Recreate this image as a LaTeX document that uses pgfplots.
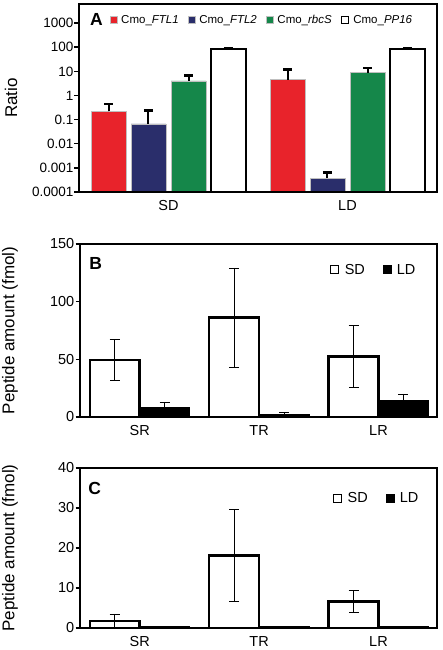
\documentclass[border=0pt]{standalone}
\usepackage{fontspec}
\setmainfont{Liberation Sans}
\usepackage{pgfplots}
\pgfplotsset{compat=1.18}
\definecolor{cred}{HTML}{E8232B}
\definecolor{cnavy}{HTML}{2A2E6B}
\definecolor{cgreen}{HTML}{15874A}
\pgfplotsset{
  common/.style={
    scale only axis,
    anchor=south west,
    /pgf/number format/assume math mode=true,
    ytick pos=left, tick align=outside, major tick length=4.5pt,
    xtick style={draw=none},
    ytick style={line width=1.5pt, black},
    axis on top,
    yticklabel style={inner sep=1pt, text=black},
    xticklabel style={font=\fontsize{14.5}{15}\selectfont, text=black},
    ylabel style={font=\fontsize{17}{17}\selectfont, anchor=center},
    ybar,
  },
}
\begin{document}
\begin{tikzpicture}[x=1pt,y=1pt]
\useasboundingbox (0,0) rectangle (442,650);

% ---------------- Panel A ----------------
\begin{axis}[common,
  at={(79pt,458pt)},
  width=358pt, height=188pt,
  ymode=log, log origin=infty,
  ymin=1e-4, ymax=6200,
  xmin=-0.5, xmax=1.5,
  xtick={0,1}, xticklabels={SD,LD},
  ytick={1e-4,1e-3,1e-2,1e-1,1,10,100,1000},
  yticklabels={0.0001,0.001,0.01,0.1,1,10,100,1000},
  yminorticks=false,
  axis line style={line width=2.5pt},
  yticklabel style={font=\fontsize{13.5}{14}\selectfont},
  ylabel={Ratio},
  ylabel style={at={(axis description cs:-0.19,0.5)}},
  bar width=0.195,
  error bars/y dir=plus, error bars/y explicit,
  error bars/error bar style={line width=2pt, black},
  error bars/error mark options={rotate=90, mark size=4.5pt, line width=2.5pt, black},
  legend columns=4,
  legend style={draw=none, fill=none, inner sep=0pt,
    at={(axis description cs:0.085,0.915)}, anchor=west,
    font=\fontsize{11.5}{12}\selectfont,
    /tikz/every even column/.append style={column sep=7pt}},
  legend image code/.code={\draw[#1, line width=0.6pt] (0pt,-3.5pt) rectangle (7pt,3.5pt); \path (9pt,0pt);},
]
\addplot[fill=cred, draw=gray!50, line width=0.6pt, bar shift=0pt]
  coordinates {(-0.335,0.22) +- (0,0.23) (0.665,4.5) +- (0,7.2)};
\addlegendentry{Cmo\_\textit{FTL1}}
\addplot[fill=cnavy, draw=gray!50, line width=0.6pt, bar shift=0pt]
  coordinates {(-0.112,0.066) +- (0,0.17) (0.888,0.00038) +- (0,0.00025)};
\addlegendentry{Cmo\_\textit{FTL2}}
\addplot[fill=cgreen, draw=gray!50, line width=0.6pt, bar shift=0pt]
  coordinates {(0.112,4.0) +- (0,2.8) (1.112,8.9) +- (0,5)};
\addlegendentry{Cmo\_\textit{rbcS}}
\addplot[fill=white, draw=black, line width=2.5pt, bar shift=0pt]
  coordinates {(0.335,85) +- (0,8) (1.335,85) +- (0,8)};
\addlegendentry{Cmo\_\textit{PP16}}
\node[font=\bfseries\fontsize{17.5}{18}\selectfont] at (axis description cs:0.049,0.918) {A};
\end{axis}

% ---------------- Panel B ----------------
\begin{axis}[common,
  at={(80pt,233pt)},
  width=357pt, height=173pt,
  ymin=0, ymax=150, ytick={0,50,100,150},
  xmin=-0.5, xmax=2.49,
  xtick={0,1,2}, xticklabels={SR,TR,LR},
  axis line style={line width=2.3pt},
  yticklabel style={font=\fontsize{14.5}{15}\selectfont},
  ylabel={Peptide amount (fmol)},
  ylabel style={at={(axis description cs:-0.196,0.5)}},
  bar width=0.418,
  error bars/y dir=both, error bars/y explicit,
  error bars/error bar style={line width=0.8pt, black},
  error bars/error mark options={rotate=90, mark size=5pt, line width=0.8pt, black},
  legend columns=2,
  legend style={draw=none, fill=none, inner sep=0pt,
    at={(axis description cs:0.70,0.85)}, anchor=west,
    font=\fontsize{14.5}{15}\selectfont,
    /tikz/every even column/.append style={column sep=16pt}},
  legend image code/.code={\draw[#1, line width=0.9pt] (0pt,-4pt) rectangle (8pt,4pt); \path (11pt,0pt);},
]
\addplot[fill=white, draw=black, line width=2.5pt, bar shift=0pt]
  coordinates {(-0.209,49.6) +- (0,18) (0.791,86.2) +- (0,43) (1.791,52.5) +- (0,27)};
\addlegendentry{SD}
\addplot[fill=black, draw=black, line width=1pt, bar shift=0pt]
  coordinates {(0.209,8.3) +- (0,4.7) (1.209,2.5) +- (0,1.5) (2.209,14) +- (0,6)};
\addlegendentry{LD}
\node[font=\bfseries\fontsize{17.5}{18}\selectfont] at (axis description cs:0.044,0.89) {B};
\end{axis}

% ---------------- Panel C ----------------
\begin{axis}[common,
  at={(80pt,22pt)},
  width=357pt, height=160pt,
  ymin=0, ymax=40, ytick={0,10,20,30,40},
  xmin=-0.5, xmax=2.49,
  xtick={0,1,2}, xticklabels={SR,TR,LR},
  axis line style={line width=2.3pt},
  yticklabel style={font=\fontsize{14.5}{15}\selectfont},
  ylabel={Peptide amount (fmol)},
  ylabel style={at={(axis description cs:-0.196,0.5)}},
  bar width=0.418,
  error bars/y dir=both, error bars/y explicit,
  error bars/error bar style={line width=0.8pt, black},
  error bars/error mark options={rotate=90, mark size=5pt, line width=0.8pt, black},
  legend columns=2,
  legend style={draw=none, fill=none, inner sep=0pt,
    at={(axis description cs:0.708,0.81)}, anchor=west,
    font=\fontsize{14.5}{15}\selectfont,
    /tikz/every even column/.append style={column sep=16pt}},
  legend image code/.code={\draw[#1, line width=0.9pt] (0pt,-4pt) rectangle (8pt,4pt); \path (11pt,0pt);},
]
\addplot[fill=white, draw=black, line width=2.5pt, bar shift=0pt]
  coordinates {(-0.209,1.8) +- (0,1.7) (0.791,18.1) +- (0,11.5) (1.791,6.6) +- (0,2.7)};
\addlegendentry{SD}
\addplot[fill=black, draw=black, line width=1pt, bar shift=0pt]
  coordinates {(0.209,0.4) (1.209,0.4) (2.209,0.4)};
\addlegendentry{LD}
\node[font=\bfseries\fontsize{17.5}{18}\selectfont] at (axis description cs:0.041,0.87) {C};
\end{axis}
\end{tikzpicture}
\end{document}
